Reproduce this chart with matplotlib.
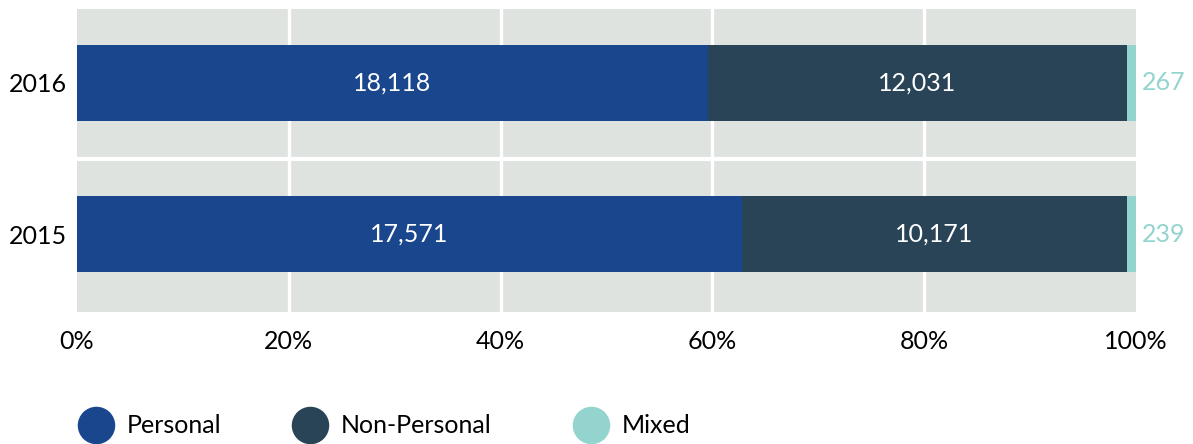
import matplotlib
matplotlib.use("Agg")
import matplotlib.pyplot as plt
import numpy as np

# Case counts per year
years = ["2015", "2016"]
personal = [17571, 18118]
non_personal = [10171, 12031]
mixed = [239, 267]
series_names = ["Personal", "Non-Personal", "Mixed"]
x_ticks = [0, 20, 40, 60, 80, 100]
x_tick_labels = ["0%", "20%", "40%", "60%", "80%", "100%"]

colors = ["#19468d", "#2a4457", "#93d4ce"]
bg = "#dfe3e0"
font = ["Lato", "DejaVu Sans"]
fs = 18

plt.rcParams["font.family"] = font

W, H = 1193, 444
fig = plt.figure(figsize=(W / 100, H / 100), dpi=100)
ax = fig.add_axes([77 / W, 1 - 312 / H, (1136 - 77) / W, (312 - 9) / H])
ax.set_facecolor(bg)

values = np.array([personal, non_personal, mixed], dtype=float)
totals = values.sum(axis=0)
shares = values / totals * 100
y = np.arange(len(years))

left = np.zeros(len(years))
for i, (name, col) in enumerate(zip(series_names, colors)):
    ax.barh(y, shares[i], left=left, height=0.5, color=col, zorder=3, label=name)
    for j in range(len(years)):
        label = f"{int(values[i, j]):,}"
        if name == "Mixed":
            ax.text(left[j] + shares[i, j] + 0.55, y[j], label, color=col,
                    fontsize=fs, va="center", ha="left", zorder=4)
        else:
            ax.text(left[j] + shares[i, j] / 2, y[j], label, color="white",
                    fontsize=fs, va="center", ha="center", zorder=4)
    left += shares[i]

# White grid: vertical at tick positions, horizontal between categories
for xv in x_ticks[1:-1]:
    ax.axvline(xv, color="white", lw=2.4, zorder=2)
ax.axhline(0.5, color="white", lw=3, zorder=2)

ax.set_xlim(0, 100)
ax.set_ylim(-0.513, 1.487)
ax.set_xticks(x_ticks)
ax.set_xticklabels(x_tick_labels)
ax.set_yticks(y)
ax.set_yticklabels(years)
ax.tick_params(axis="both", length=0, labelsize=fs, colors="black")
ax.tick_params(axis="x", pad=13)
ax.tick_params(axis="y", pad=7)
for s in ax.spines.values():
    s.set_visible(False)

# Legend row along the bottom
lax = fig.add_axes([0, 0, 1, 1])
lax.set_xlim(0, W)
lax.set_ylim(H, 0)
lax.axis("off")
legend_x = [96, 310, 591]
for name, col, lx in zip(series_names, colors, legend_x):
    lax.plot([lx], [425], marker="o", markersize=27, color=col, mec="none")
    lax.text(lx + 31, 425, name, fontsize=fs, va="center", ha="left", color="black")

fig.savefig("out.png", dpi=100)
